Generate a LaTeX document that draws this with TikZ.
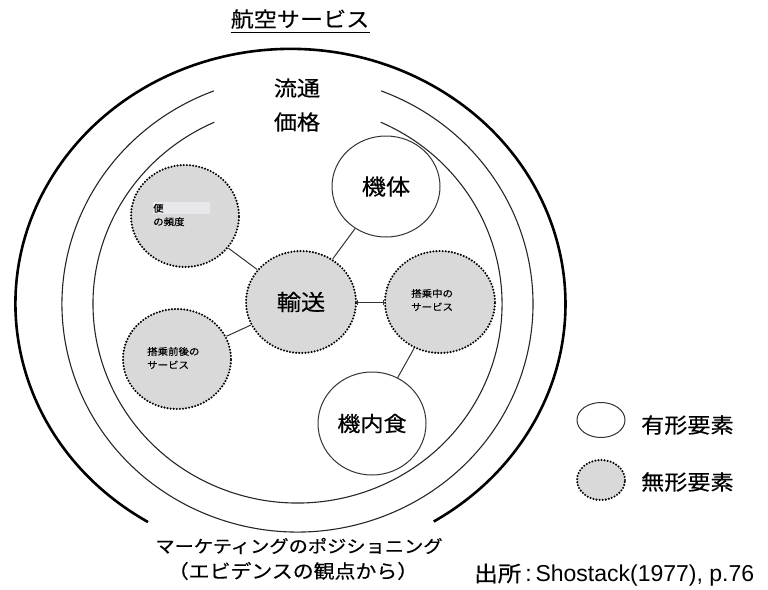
\documentclass[tikz,border=0pt]{standalone}
\usepackage{fontspec}
\usetikzlibrary{shapes.geometric,arrows.meta}
\newfontfamily\jp{Noto Sans CJK JP}[FakeStretch=1.1,FakeBold=0.4]
\newfontfamily\lat{Liberation Sans}
\definecolor{dotfill}{RGB}{217,217,217}
\definecolor{hilite}{RGB}{232,232,236}
\begin{document}
\begin{tikzpicture}[x=1pt,y=-1pt,
  tang/.style={ellipse, draw=black!80, line width=1pt, fill=white, inner sep=0pt},
  intang/.style={ellipse, draw=black, line width=2.3pt, dash pattern=on 0pt off 3.1pt, line cap=round, fill=dotfill, inner sep=0pt},
  link/.style={draw=black!80, line width=1pt},
  ring/.style={draw=black!85, line width=1.1pt},
  outerring/.style={draw=black, line width=2.6pt},
  bigtxt/.style={font=\jp\fontsize{22}{26}\selectfont, inner sep=0pt},
  midtxt/.style={font=\jp\fontsize{21}{25}\selectfont, inner sep=0pt},
  bottxt/.style={font=\jp\fontsize{17.5}{21}\selectfont, inner sep=0pt},
  smalltxt/.style={font=\jp\fontsize{9.5}{13.5}\selectfont, align=left, inner sep=0pt}]

\useasboundingbox (0,0) rectangle (768,589);

% rings
\draw[outerring] (148,522) arc[start angle=121.2, end angle=418.6, x radius=275, y radius=255];
\draw[ring] (381.1,90.9) arc[start angle=290.8, end angle=609.2, x radius=235.5, y radius=228];
\draw[ring] (380.7,122.2) arc[start angle=294, end angle=606, x radius=204.5, y radius=199];

% element circles
\node[tang, minimum width=108pt, minimum height=101pt] (kitai) at (386,186.5) {};
\node[intang, minimum width=108pt, minimum height=102pt] (bin) at (185,216) {};
\node[intang, minimum width=110pt, minimum height=102pt] (yuso) at (301,302) {};
\node[intang, minimum width=110pt, minimum height=102pt] (tojochu) at (440,302) {};
\node[intang, minimum width=108pt, minimum height=100pt] (tojozengo) at (177,359) {};
\node[tang, minimum width=108pt, minimum height=103pt] (kinai) at (372,423.5) {};

% connectors
\draw[link] (bin) -- (yuso);
\draw[link] (kitai) -- (yuso);
\draw[link, {Bar[width=5pt]}-{Bar[width=5pt]}] (yuso) -- (tojochu);
\draw[link] (yuso) -- (tojozengo);
\draw[link] (tojochu) -- (kinai);

% texts in circles
\node[bigtxt] (tkitai) at (kitai) {機体};
\node[bigtxt] (tyuso) at (yuso) {輸送};
\node[midtxt] (tkinai) at (kinai) {機内食};
\fill[hilite] (153,202) rectangle (210,214);
\node[smalltxt, anchor=west] (tbin) at (153,215) {便\\の頻度};
\node[smalltxt, anchor=west] (ttojochu) at (411,300) {搭乗中の\\サービス};
\node[smalltxt, anchor=west] (ttojozengo) at (147,358) {搭乗前後の\\サービス};

% ring labels
\node[midtxt] (ryutsu) at (297,88) {流通};
\node[midtxt] (kakaku) at (297,122) {価格};

% title
\node[midtxt] (title) at (300,19) {航空サービス};
\draw[line width=1pt] ([yshift=-4pt]title.south west) -- ([yshift=-4pt]title.south east);

% bottom labels
\node[bottxt] (pos1) at (299,546) {マーケティングのポジショニング};
\node[bottxt, font=\jp\fontsize{19}{22}\selectfont] (pos2) at (293,571) {（エビデンスの観点から）};

% legend
\node[tang, minimum width=48pt, minimum height=35pt] (leg1) at (601,420) {};
\node[intang, minimum width=48pt, minimum height=40pt] (leg2) at (601,480) {};
\node[midtxt, anchor=west] (leg1t) at (641,425) {有形要素};
\node[midtxt, anchor=west] (leg2t) at (641,482) {無形要素};

% source
\node[inner sep=0pt, anchor=west] (src) at (474,575) {{\jp\fontsize{21.5}{24}\selectfont 出所}{\lat\fontsize{23}{27}\selectfont\,:\,Shostack(1977), p.76}};
\end{tikzpicture}
\end{document}
